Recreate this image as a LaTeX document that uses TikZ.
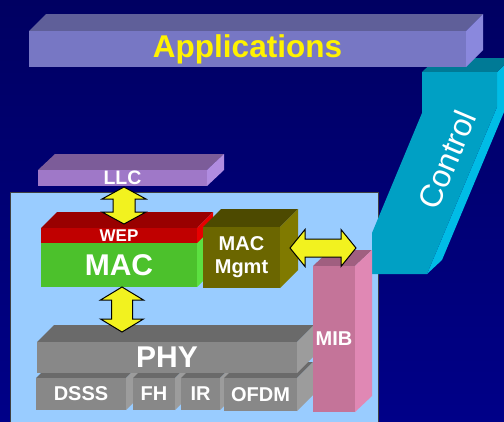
\documentclass[tikz,border=0pt]{standalone}
\usepackage{fontspec}
\setmainfont{Liberation Sans}
\usetikzlibrary{calc}
\definecolor{bgtop}{HTML}{000062}
\definecolor{bgbot}{HTML}{000088}
\definecolor{boxfill}{HTML}{99CCFF}
\definecolor{appF}{HTML}{7777C4}
\definecolor{appT}{HTML}{5F5F99}
\definecolor{appS}{HTML}{8A88DD}
\definecolor{llcF}{HTML}{9F78C8}
\definecolor{llcT}{HTML}{7C5C99}
\definecolor{llcS}{HTML}{B08CE0}
\definecolor{wepF}{HTML}{C00000}
\definecolor{wepT}{HTML}{990000}
\definecolor{wepS}{HTML}{E80000}
\definecolor{macF}{HTML}{4CC12C}
\definecolor{macT}{HTML}{3A9A20}
\definecolor{macS}{HTML}{5CE040}
\definecolor{mgmtF}{HTML}{6B6600}
\definecolor{mgmtT}{HTML}{4D4A00}
\definecolor{mgmtS}{HTML}{807A00}
\definecolor{phyF}{HTML}{888888}
\definecolor{phyT}{HTML}{6A6A6A}
\definecolor{phyS}{HTML}{9C9C9C}
\definecolor{mibF}{HTML}{C47499}
\definecolor{mibT}{HTML}{A05F80}
\definecolor{mibS}{HTML}{E088B4}
\definecolor{ctlF}{HTML}{00A0C4}
\definecolor{ctlT}{HTML}{007A96}
\definecolor{ctlS}{HTML}{00BCE6}
\definecolor{arrowY}{HTML}{F2F21F}
\newcommand\fs[2]{\fontsize{#1}{#2}\selectfont}
% #1 name, #2 x1, #3 y1, #4 x2, #5 y2, #6 dx, #7 dy, #8 colour prefix, #9 text
\newcommand\prism[9]{%
  \fill[#8T] (#2,#3) -- ++(#6,-#7) -- (#4+#6,#3-#7) -- (#4,#3) -- cycle;
  \fill[#8S] (#4,#3) -- (#4+#6,#3-#7) -- (#4+#6,#5-#7) -- (#4,#5) -- cycle;
  \node[face, fill=#8F, minimum width={(#4-#2)*1pt}, minimum height={(#5-#3)*1pt}]
    (#1) at ({(#2+#4)/2},{(#3+#5)/2}) {#9};
}
% vertical double arrow: top, bottom, half head, half shaft, head length
\newcommand\varrow[5]{%
  \draw[yarrow] (#1) -- ($(#1)+(#3,#5)$) -- ($(#1)+(#4,#5)$) -- ($(#2)+(#4,-#5)$)
    -- ($(#2)+(#3,-#5)$) -- (#2) -- ($(#2)+(-#3,-#5)$) -- ($(#2)+(-#4,-#5)$)
    -- ($(#1)+(-#4,#5)$) -- ($(#1)+(-#3,#5)$) -- cycle;}
% horizontal double arrow: left, right, half head, half shaft, head length
\newcommand\harrow[5]{%
  \draw[yarrow] (#1) -- ($(#1)+(#5,-#3)$) -- ($(#1)+(#5,-#4)$) -- ($(#2)+(-#5,-#4)$)
    -- ($(#2)+(-#5,-#3)$) -- (#2) -- ($(#2)+(-#5,#3)$) -- ($(#2)+(-#5,#4)$)
    -- ($(#1)+(#5,#4)$) -- ($(#1)+(#5,#3)$) -- cycle;}
\begin{document}
\begin{tikzpicture}[x=1pt,y=-1pt,
  face/.style={inner sep=0pt, outer sep=0pt, text=white, font=\bfseries, align=center},
  yarrow/.style={fill=arrowY, draw=black, line width=1pt, line join=miter},
  ctltext/.style={inner sep=0pt, text=white, font=\fs{32}{36}}]
\useasboundingbox (0,0) rectangle (504,421);
\clip (0,0) rectangle (504,421);
\shade[top color=bgtop, bottom color=bgbot] (0,0) rectangle (504,421);
% stack box
\node[draw=black!75, line width=1pt, fill=boxfill, inner sep=0pt,
  minimum width=368pt, minimum height=240pt, anchor=north west] (stack) at (10,192) {};
% Control
\fill[ctlS] (497,72) -- (512,58) -- (512,93) -- (442,260) -- (427,274) -- (497,107) -- cycle;
\fill[ctlT] (422,72) -- (437,58) -- (512,58) -- (497,72) -- cycle;
\fill[ctlF] (422,72) -- (497,72) -- (497,107) -- (427,274) -- (372,274) -- (372,233) -- (422,113) -- cycle;
\node[ctltext, rotate=67] (control) at (447,160) {Control};
% Applications
\prism{app}{29}{31}{466}{67}{17}{17}{app}{\textcolor{yellow}{\fs{31.5}{36}Applications}}
% LLC
\prism{llc}{38}{170}{207}{186}{17}{16}{llc}{\fs{19.5}{22}LLC}
% MAC and WEP
\prism{mac}{41}{243}{197}{287}{16}{16}{mac}{\fs{30}{34}MAC}
\prism{wep}{41}{228}{197}{243}{16}{16}{wep}{\fs{17}{20}WEP}
\coordinate (a1t) at ($(llc.south)+(1.5,1)$);
\coordinate (a1b) at ($(wep.north)+(5,-4)$);
\varrow{a1t}{a1b}{22}{11}{12}
% MAC Mgmt
\prism{mgmt}{203}{227}{280}{288}{18}{18}{mgmt}{\fs{20}{25}MAC\\[8pt]\fs{20}{25}Mgmt}
% PHY sub-layers
\prism{dsss}{36}{378}{126}{410}{16}{16}{phy}{\fs{20}{24}DSSS}
\prism{fh}{133}{378}{175}{410}{16}{16}{phy}{\fs{20}{24}FH}
\prism{ir}{181}{378}{220}{410}{16}{16}{phy}{\fs{20}{24}IR}
\prism{ofdm}{224}{378}{297}{411}{16}{16}{phy}{\fs{20}{24}OFDM}
% PHY
\prism{phy}{37}{342}{297}{373}{17}{17}{phy}{\fs{30}{34}PHY}
\coordinate (a2t) at ($(mac.south)+(3,0)$);
\coordinate (a2b) at ($(a2t)+(0,45)$);
\varrow{a2t}{a2b}{21.5}{10.5}{13}
% MIB
\prism{mib}{313}{266}{355}{412}{17}{16}{mib}{\fs{20}{24}MIB}
\coordinate (a3l) at ($(mgmt.east)+(10,-9.5)$);
\coordinate (a3r) at ($(a3l)+(66,0)$);
\harrow{a3l}{a3r}{18.5}{9}{15}
\end{tikzpicture}
\end{document}
